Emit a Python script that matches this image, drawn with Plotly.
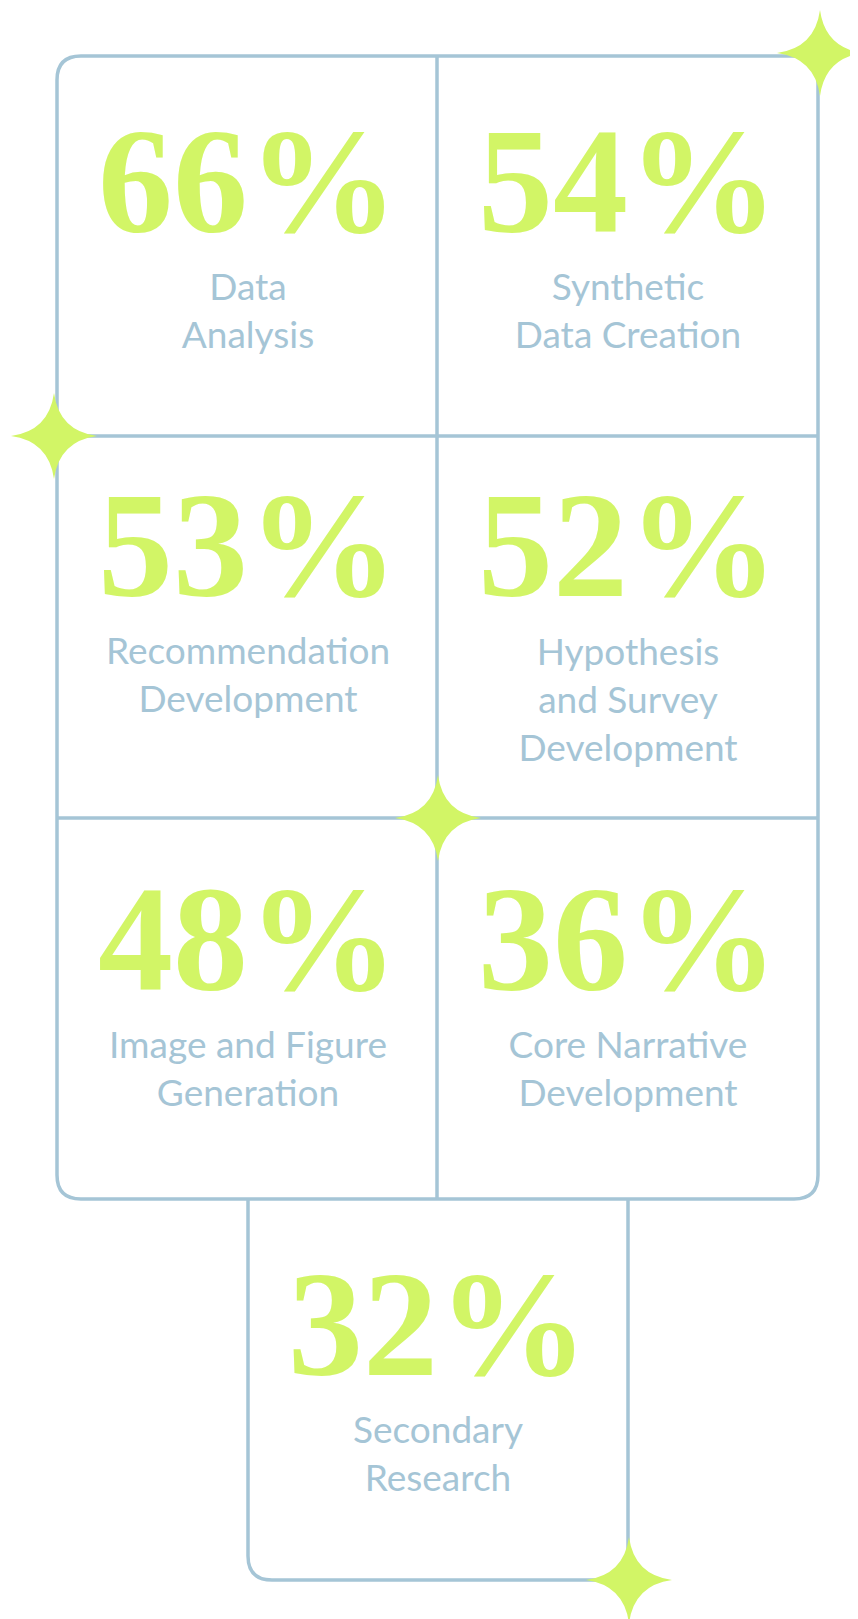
import plotly.graph_objects as go

values = ["66%", "54%", "53%", "52%", "48%", "36%", "32%"]
labels = ["Data<br>Analysis", "Synthetic<br>Data Creation", "Recommendation<br>Development",
          "Hypothesis<br>and Survey<br>Development", "Image and Figure<br>Generation",
          "Core Narrative<br>Development", "Secondary<br>Research"]
cell_x = [240, 620, 240, 620, 240, 620, 430]
cell_num_y = [186, 186, 550, 550, 944, 944, 1329]

LINE = "#a5c5d6"
GREEN = "#d2f566"

fig = go.Figure()
fig.add_trace(go.Scatter(x=cell_x, y=cell_num_y, mode="text", text=values,
                         textfont=dict(family="Liberation Serif", size=150, color=GREEN,
                                       weight="bold"),
                         hoverinfo="skip"))
lab_y = [y + 96 + 25 * (l.count("<br>")) for y, l in zip(cell_num_y, labels)]
fig.add_trace(go.Scatter(x=cell_x, y=lab_y, mode="text", text=labels,
                         textfont=dict(family="Lato", size=37, color=LINE),
                         textposition="middle center", hoverinfo="skip"))

L, R, T, B, M = 49, 810, 48, 1191, 429
R1, R2 = 428, 810
r = 24
W = 3.5
shapes = []
main = (f"M {L+r} {T} L {R} {T} L {R} {B-r} Q {R} {B} {R-r} {B} L {L+r} {B} "
        f"Q {L} {B} {L} {B-r} L {L} {T+r} Q {L} {T} {L+r} {T} Z")
shapes.append(dict(type="path", path=main, line=dict(color=LINE, width=W)))
for y in (R1, R2):
    shapes.append(dict(type="line", x0=L, x1=R, y0=y, y1=y, line=dict(color=LINE, width=W)))
shapes.append(dict(type="line", x0=M, x1=M, y0=T, y1=B, line=dict(color=LINE, width=W)))
bl, br, bb = 240, 620, 1572
bot = (f"M {bl} {B} L {bl} {bb-r} Q {bl} {bb} {bl+r} {bb} L {br-r} {bb} "
       f"Q {br} {bb} {br} {bb-r} L {br} {B}")
shapes.append(dict(type="path", path=bot, line=dict(color=LINE, width=W)))

def star(cx, cy, s):
    return (f"M {cx} {cy-s} Q {cx+s*0.12} {cy-s*0.12} {cx+s} {cy} "
            f"Q {cx+s*0.12} {cy+s*0.12} {cx} {cy+s} "
            f"Q {cx-s*0.12} {cy+s*0.12} {cx-s} {cy} "
            f"Q {cx-s*0.12} {cy-s*0.12} {cx} {cy-s} Z")
for cx, cy in [(812, 45), (46, 428), (430, 810), (621, 1572)]:
    shapes.append(dict(type="path", path=star(cx, cy, 43), fillcolor=GREEN,
                       line=dict(width=0)))

fig.update_layout(width=858, height=1619, margin=dict(l=0, r=0, t=0, b=0),
                  paper_bgcolor="white", plot_bgcolor="white", showlegend=False,
                  shapes=shapes,
                  xaxis=dict(range=[0, 858], visible=False, fixedrange=True),
                  yaxis=dict(range=[1619, 0], visible=False, fixedrange=True))
fig.write_html("out.html")
